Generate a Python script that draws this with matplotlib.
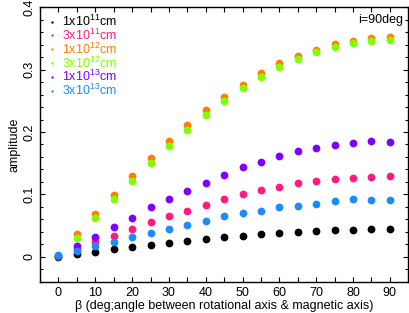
import numpy as np
import matplotlib
matplotlib.use('Agg')
import matplotlib.pyplot as plt
from matplotlib.ticker import MultipleLocator

# --------- data --------

beta = [0, 5, 10, 15, 20, 25, 30, 35, 40, 45, 50, 55, 60, 65, 70, 75, 80, 85, 90]

amp_1e11 = [0.000, 0.004, 0.008, 0.012, 0.0155, 0.019, 0.022, 0.025, 0.0284, 0.031,
            0.0337, 0.036, 0.038, 0.0396, 0.041, 0.0428, 0.0433, 0.0439, 0.0439]
amp_3e11 = [0.001, 0.012, 0.024, 0.034, 0.045, 0.055, 0.065, 0.074, 0.083, 0.092,
            0.100, 0.107, 0.112, 0.1176, 0.1213, 0.1245, 0.1266, 0.128, 0.1288]
amp_1e12 = [0.001, 0.036, 0.068, 0.099, 0.129, 0.158, 0.185, 0.2115, 0.235, 0.256,
            0.276, 0.294, 0.310, 0.322, 0.332, 0.341, 0.346, 0.350, 0.352]
amp_3e12 = [0.001, 0.030, 0.0615, 0.092, 0.122, 0.150, 0.177, 0.203, 0.227, 0.2495,
            0.270, 0.288, 0.304, 0.317, 0.328, 0.336, 0.343, 0.346, 0.348]
amp_1e13 = [0.001, 0.017, 0.031, 0.048, 0.0625, 0.080, 0.0925, 0.106, 0.119, 0.131,
            0.1437, 0.1518, 0.162, 0.169, 0.175, 0.1795, 0.1817, 0.1854, 0.1843]
amp_3e13 = [0.003, 0.0096, 0.017, 0.024, 0.032, 0.0385, 0.045, 0.051, 0.058, 0.065,
            0.070, 0.074, 0.080, 0.082, 0.0845, 0.0888, 0.0925, 0.091, 0.0914]

labels = [r'1x10$^{11}$cm', r'3x10$^{11}$cm', r'1x10$^{12}$cm',
          r'3x10$^{12}$cm', r'1x10$^{13}$cm', r'3x10$^{13}$cm']
colors = ['black', '#ff1a80', '#ff7f00', '#80ff00', '#8000ff', '#1a8cff']
series = [amp_1e11, amp_3e11, amp_1e12, amp_3e12, amp_1e13, amp_3e13]

# --------- plot-params -----------

plt.rcParams['font.family'] = ['Liberation Sans', 'DejaVu Sans']
plt.rcParams['mathtext.fontset'] = 'custom'
plt.rcParams['mathtext.rm'] = 'Liberation Sans'
plt.rcParams['mathtext.it'] = 'Liberation Sans'
fs = 9

fig = plt.figure(figsize=(4.09, 3.13), dpi=100)
ax = fig.add_axes([0.098, 0.1, 0.9, 0.8767])

for vals, col, lab in zip(series, colors, labels):
    ax.plot(beta, vals, 'o', color=col, ms=5.6, mec='none', label=lab)

ax.set_xlim(-5, 95)
ax.set_ylim(-0.04, 0.4)

ax.xaxis.set_major_locator(MultipleLocator(10))
ax.xaxis.set_minor_locator(MultipleLocator(5))
ax.yaxis.set_major_locator(MultipleLocator(0.1))
ax.yaxis.set_minor_locator(MultipleLocator(0.02))
ax.set_yticks([0, 0.1, 0.2, 0.3, 0.4])
ax.set_yticklabels(['0', '0.1', '0.2', '0.3', '0.4'], rotation=90, va='center')
ax.tick_params(which='both', direction='in', top=True, right=True, labelsize=fs, width=0.8)
ax.tick_params(which='major', length=3.5)
ax.tick_params(which='minor', length=2.5)
ax.tick_params(axis='x', which='minor', length=3.5)
for sp in ax.spines.values():
    sp.set_linewidth(1.0)

ax.set_xlabel(r'β (deg;angle between rotational axis & magnetic axis)', fontsize=fs, labelpad=1)
ax.set_ylabel('amplitude', fontsize=fs, labelpad=2)

leg = ax.legend(loc='upper left', frameon=False, fontsize=fs, markerscale=0.3,
                handlelength=0.6, handletextpad=0.45, labelspacing=-0.11,
                borderaxespad=0.3, bbox_to_anchor=(-0.001, 1.008))
for txt, col in zip(leg.get_texts(), colors):
    txt.set_color(col)

ax.text(0.985, 0.975, 'i=90deg', transform=ax.transAxes, ha='right', va='top', fontsize=fs)

plt.savefig('out.png', dpi=100)
